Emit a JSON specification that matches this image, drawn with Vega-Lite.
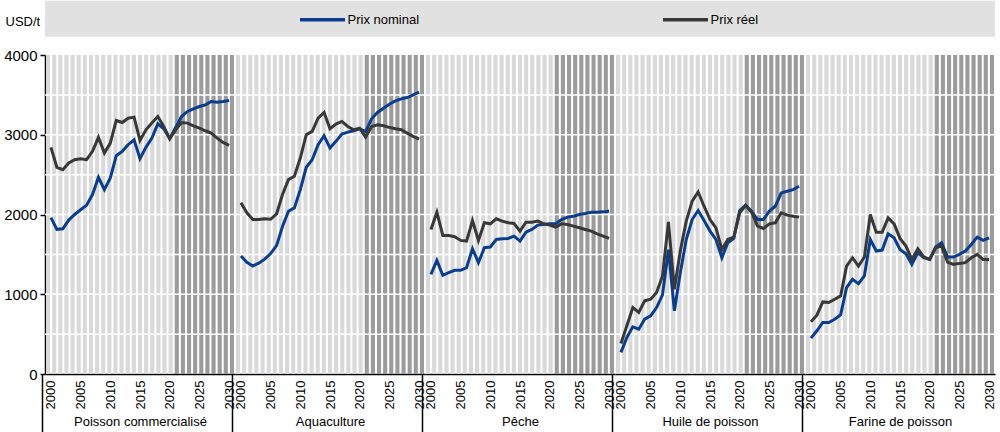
{
"$schema": "https://vega.github.io/schema/vega-lite/v6.json",
"padding": {"left": 3, "top": 0, "right": 0, "bottom": 0},
"background": "white",
"bounds": "flush",
"spacing": 0,
"datasets": {
"prix": [
{"p":"Poisson commercialisé","yr":2000,"n":1960,"r":2842},{"p":"Poisson commercialisé","yr":2001,"n":1814,"r":2592},{"p":"Poisson commercialisé","yr":2002,"n":1820,"r":2562},{"p":"Poisson commercialisé","yr":2003,"n":1930,"r":2646},{"p":"Poisson commercialisé","yr":2004,"n":2000,"r":2687},{"p":"Poisson commercialisé","yr":2005,"n":2060,"r":2700},{"p":"Poisson commercialisé","yr":2006,"n":2115,"r":2687},{"p":"Poisson commercialisé","yr":2007,"n":2250,"r":2792},{"p":"Poisson commercialisé","yr":2008,"n":2467,"r":2967},{"p":"Poisson commercialisé","yr":2009,"n":2312,"r":2771},{"p":"Poisson commercialisé","yr":2010,"n":2458,"r":2896},{"p":"Poisson commercialisé","yr":2011,"n":2737,"r":3179},{"p":"Poisson commercialisé","yr":2012,"n":2792,"r":3154},{"p":"Poisson commercialisé","yr":2013,"n":2875,"r":3208},{"p":"Poisson commercialisé","yr":2014,"n":2937,"r":3221},{"p":"Poisson commercialisé","yr":2015,"n":2700,"r":2929},{"p":"Poisson commercialisé","yr":2016,"n":2842,"r":3062},{"p":"Poisson commercialisé","yr":2017,"n":2958,"r":3146},{"p":"Poisson commercialisé","yr":2018,"n":3137,"r":3229},{"p":"Poisson commercialisé","yr":2019,"n":3075,"r":3104},{"p":"Poisson commercialisé","yr":2020,"n":2950,"r":2950},{"p":"Poisson commercialisé","yr":2021,"n":3092,"r":3062},{"p":"Poisson commercialisé","yr":2022,"n":3229,"r":3154},{"p":"Poisson commercialisé","yr":2023,"n":3292,"r":3146},{"p":"Poisson commercialisé","yr":2024,"n":3325,"r":3112},{"p":"Poisson commercialisé","yr":2025,"n":3354,"r":3083},{"p":"Poisson commercialisé","yr":2026,"n":3375,"r":3050},{"p":"Poisson commercialisé","yr":2027,"n":3417,"r":3021},{"p":"Poisson commercialisé","yr":2028,"n":3408,"r":2958},{"p":"Poisson commercialisé","yr":2029,"n":3417,"r":2904},{"p":"Poisson commercialisé","yr":2030,"n":3429,"r":2867},
{"p":"Aquaculture","yr":2000,"n":1480,"r":2146},{"p":"Aquaculture","yr":2001,"n":1400,"r":2021},{"p":"Aquaculture","yr":2002,"n":1355,"r":1937},{"p":"Aquaculture","yr":2003,"n":1390,"r":1937},{"p":"Aquaculture","yr":2004,"n":1440,"r":1946},{"p":"Aquaculture","yr":2005,"n":1510,"r":1940},{"p":"Aquaculture","yr":2006,"n":1610,"r":2008},{"p":"Aquaculture","yr":2007,"n":1850,"r":2250},{"p":"Aquaculture","yr":2008,"n":2040,"r":2437},{"p":"Aquaculture","yr":2009,"n":2083,"r":2479},{"p":"Aquaculture","yr":2010,"n":2312,"r":2708},{"p":"Aquaculture","yr":2011,"n":2592,"r":3000},{"p":"Aquaculture","yr":2012,"n":2687,"r":3042},{"p":"Aquaculture","yr":2013,"n":2875,"r":3208},{"p":"Aquaculture","yr":2014,"n":2987,"r":3279},{"p":"Aquaculture","yr":2015,"n":2833,"r":3075},{"p":"Aquaculture","yr":2016,"n":2917,"r":3133},{"p":"Aquaculture","yr":2017,"n":3008,"r":3167},{"p":"Aquaculture","yr":2018,"n":3033,"r":3104},{"p":"Aquaculture","yr":2019,"n":3050,"r":3062},{"p":"Aquaculture","yr":2020,"n":3075,"r":3083},{"p":"Aquaculture","yr":2021,"n":3040,"r":2971},{"p":"Aquaculture","yr":2022,"n":3200,"r":3104},{"p":"Aquaculture","yr":2023,"n":3279,"r":3125},{"p":"Aquaculture","yr":2024,"n":3333,"r":3112},{"p":"Aquaculture","yr":2025,"n":3383,"r":3092},{"p":"Aquaculture","yr":2026,"n":3425,"r":3075},{"p":"Aquaculture","yr":2027,"n":3450,"r":3062},{"p":"Aquaculture","yr":2028,"n":3467,"r":3021},{"p":"Aquaculture","yr":2029,"n":3500,"r":2979},{"p":"Aquaculture","yr":2030,"n":3533,"r":2946},
{"p":"Pêche","yr":2000,"n":1250,"r":1812},{"p":"Pêche","yr":2001,"n":1425,"r":2029},{"p":"Pêche","yr":2002,"n":1237,"r":1737},{"p":"Pêche","yr":2003,"n":1271,"r":1737},{"p":"Pêche","yr":2004,"n":1300,"r":1721},{"p":"Pêche","yr":2005,"n":1300,"r":1675},{"p":"Pêche","yr":2006,"n":1333,"r":1667},{"p":"Pêche","yr":2007,"n":1571,"r":1925},{"p":"Pêche","yr":2008,"n":1396,"r":1675},{"p":"Pêche","yr":2009,"n":1583,"r":1896},{"p":"Pêche","yr":2010,"n":1592,"r":1883},{"p":"Pêche","yr":2011,"n":1687,"r":1946},{"p":"Pêche","yr":2012,"n":1696,"r":1917},{"p":"Pêche","yr":2013,"n":1700,"r":1896},{"p":"Pêche","yr":2014,"n":1729,"r":1887},{"p":"Pêche","yr":2015,"n":1667,"r":1792},{"p":"Pêche","yr":2016,"n":1779,"r":1904},{"p":"Pêche","yr":2017,"n":1812,"r":1904},{"p":"Pêche","yr":2018,"n":1867,"r":1917},{"p":"Pêche","yr":2019,"n":1875,"r":1883},{"p":"Pêche","yr":2020,"n":1883,"r":1867},{"p":"Pêche","yr":2021,"n":1883,"r":1842},{"p":"Pêche","yr":2022,"n":1937,"r":1883},{"p":"Pêche","yr":2023,"n":1967,"r":1875},{"p":"Pêche","yr":2024,"n":1979,"r":1854},{"p":"Pêche","yr":2025,"n":2000,"r":1833},{"p":"Pêche","yr":2026,"n":2012,"r":1812},{"p":"Pêche","yr":2027,"n":2029,"r":1792},{"p":"Pêche","yr":2028,"n":2029,"r":1758},{"p":"Pêche","yr":2029,"n":2033,"r":1729},{"p":"Pêche","yr":2030,"n":2042,"r":1700},
{"p":"Huile de poisson","yr":2000,"n":271,"r":383},{"p":"Huile de poisson","yr":2001,"n":458,"r":604},{"p":"Huile de poisson","yr":2002,"n":592,"r":833},{"p":"Huile de poisson","yr":2003,"n":562,"r":771},{"p":"Huile de poisson","yr":2004,"n":687,"r":917},{"p":"Huile de poisson","yr":2005,"n":729,"r":937},{"p":"Huile de poisson","yr":2006,"n":833,"r":1021},{"p":"Huile de poisson","yr":2007,"n":992,"r":1229},{"p":"Huile de poisson","yr":2008,"n":1560,"r":1908},{"p":"Huile de poisson","yr":2009,"n":792,"r":1062},{"p":"Huile de poisson","yr":2010,"n":1271,"r":1542},{"p":"Huile de poisson","yr":2011,"n":1687,"r":1917},{"p":"Huile de poisson","yr":2012,"n":1937,"r":2167},{"p":"Huile de poisson","yr":2013,"n":2050,"r":2283},{"p":"Huile de poisson","yr":2014,"n":1925,"r":2104},{"p":"Huile de poisson","yr":2015,"n":1792,"r":1937},{"p":"Huile de poisson","yr":2016,"n":1687,"r":1833},{"p":"Huile de poisson","yr":2017,"n":1458,"r":1562},{"p":"Huile de poisson","yr":2018,"n":1646,"r":1687},{"p":"Huile de poisson","yr":2019,"n":1700,"r":1717},{"p":"Huile de poisson","yr":2020,"n":2050,"r":2021},{"p":"Huile de poisson","yr":2021,"n":2117,"r":2112},{"p":"Huile de poisson","yr":2022,"n":2042,"r":2029},{"p":"Huile de poisson","yr":2023,"n":1937,"r":1854},{"p":"Huile de poisson","yr":2024,"n":1937,"r":1825},{"p":"Huile de poisson","yr":2025,"n":2042,"r":1883},{"p":"Huile de poisson","yr":2026,"n":2104,"r":1896},{"p":"Huile de poisson","yr":2027,"n":2271,"r":2021},{"p":"Huile de poisson","yr":2028,"n":2292,"r":1992},{"p":"Huile de poisson","yr":2029,"n":2312,"r":1979},{"p":"Huile de poisson","yr":2030,"n":2354,"r":1967},
{"p":"Farine de poisson","yr":2000,"n":450,"r":654},{"p":"Farine de poisson","yr":2001,"n":542,"r":737},{"p":"Farine de poisson","yr":2002,"n":646,"r":904},{"p":"Farine de poisson","yr":2003,"n":646,"r":896},{"p":"Farine de poisson","yr":2004,"n":687,"r":937},{"p":"Farine de poisson","yr":2005,"n":742,"r":979},{"p":"Farine de poisson","yr":2006,"n":1083,"r":1354},{"p":"Farine de poisson","yr":2007,"n":1187,"r":1458},{"p":"Farine de poisson","yr":2008,"n":1133,"r":1354},{"p":"Farine de poisson","yr":2009,"n":1229,"r":1467},{"p":"Farine de poisson","yr":2010,"n":1687,"r":2000},{"p":"Farine de poisson","yr":2011,"n":1542,"r":1779},{"p":"Farine de poisson","yr":2012,"n":1554,"r":1779},{"p":"Farine de poisson","yr":2013,"n":1758,"r":1958},{"p":"Farine de poisson","yr":2014,"n":1708,"r":1883},{"p":"Farine de poisson","yr":2015,"n":1562,"r":1700},{"p":"Farine de poisson","yr":2016,"n":1508,"r":1604},{"p":"Farine de poisson","yr":2017,"n":1375,"r":1437},{"p":"Farine de poisson","yr":2018,"n":1521,"r":1571},{"p":"Farine de poisson","yr":2019,"n":1458,"r":1467},{"p":"Farine de poisson","yr":2020,"n":1437,"r":1437},{"p":"Farine de poisson","yr":2021,"n":1592,"r":1583},{"p":"Farine de poisson","yr":2022,"n":1646,"r":1604},{"p":"Farine de poisson","yr":2023,"n":1467,"r":1404},{"p":"Farine de poisson","yr":2024,"n":1467,"r":1375},{"p":"Farine de poisson","yr":2025,"n":1500,"r":1387},{"p":"Farine de poisson","yr":2026,"n":1542,"r":1396},{"p":"Farine de poisson","yr":2027,"n":1625,"r":1458},{"p":"Farine de poisson","yr":2028,"n":1717,"r":1500},{"p":"Farine de poisson","yr":2029,"n":1675,"r":1437},{"p":"Farine de poisson","yr":2030,"n":1708,"r":1437}
]
},
"data": {"name": "prix"},
"resolve": {"scale": {"color": "shared"}, "legend": {"color": "shared"}},
"hconcat": [
{
 "width": 190, "height": 319,
 "transform": [{"filter": {"field": "p", "equal": "Poisson commercialisé"}}],
 "resolve": {"scale": {"x": "independent"}},
 "layer": [
  {"transform": [{"aggregate": [{"op": "count", "as": "c"}]}], "mark": {"type": "rect", "color": "#e1e1e1"},
   "encoding": {"x": {"value": 0}, "x2": {"value": "width"}, "y": {"datum": 4680}, "y2": {"datum": 4230}}},
  {"mark": {"type": "bar"},
   "encoding": {"x": {"field": "yr", "type": "ordinal", "scale": {"type": "band", "paddingInner": 0.33, "paddingOuter": 0.165}, "axis": null},
                "y": {"datum": 4000},
                "color": {"condition": {"test": "datum.yr > 2020", "value": "#9b9b9b"}, "value": "#d9d9d9"}}},
  {"transform": [{"aggregate": [{"op": "count", "as": "c"}]}],
   "layer": [
    {"mark": {"type": "rule", "color": "white", "strokeWidth": 1.5}, "encoding": {"y": {"datum": 500}}},
    {"mark": {"type": "rule", "color": "white", "strokeWidth": 1.5}, "encoding": {"y": {"datum": 1000}}},
    {"mark": {"type": "rule", "color": "white", "strokeWidth": 1.5}, "encoding": {"y": {"datum": 1500}}},
    {"mark": {"type": "rule", "color": "white", "strokeWidth": 1.5}, "encoding": {"y": {"datum": 2000}}},
    {"mark": {"type": "rule", "color": "white", "strokeWidth": 1.5}, "encoding": {"y": {"datum": 2500}}},
    {"mark": {"type": "rule", "color": "white", "strokeWidth": 1.5}, "encoding": {"y": {"datum": 3000}}},
    {"mark": {"type": "rule", "color": "white", "strokeWidth": 1.5}, "encoding": {"y": {"datum": 3500}}}
   ]},
  {"transform": [{"fold": ["n", "r"], "as": ["s", "v"]}],
   "mark": {"type": "line", "strokeWidth": 3},
   "encoding": {
    "x": {"field": "yr", "type": "ordinal", "scale": {"type": "point", "padding": 1.474},
          "axis": {"values": [2000, 2005, 2010, 2015, 2020, 2025, 2030], "title": "Poisson commercialisé", "orient": "bottom",
                   "titleFontSize": 13, "titleFontWeight": "normal", "titleFont": "Liberation Sans", "titleColor": "black", "titleY": 47, "titleBaseline": "middle",
                   "labelAngle": -90, "labelAlign": "right", "labelBaseline": "middle",
                   "labelFontSize": 13, "labelFont": "Liberation Sans", "labelColor": "black",
                   "labelPadding": -53, "labelOffset": 8.5, "tickOffset": -8.5,
                   "domainColor": "black", "domainWidth": 1.5, "grid": false, "tickSize": 59, "tickWidth": 1.5,
                   "tickColor": {"condition": {"test": "datum.value == 2000", "value": "black"}, "value": "transparent"}}},
    "y": {"field": "v", "type": "quantitative", "scale": {"domain": [0, 4000], "nice": false},
          "axis": {"values": [0, 500, 1000, 1500, 2000, 2500, 3000, 3500, 4000], "format": "d",
                   "title": "USD/t", "titleAngle": 0, "titleAlign": "left", "titleBaseline": "middle",
                   "titleX": -40, "titleY": -34, "titleFontSize": 13, "titleFontWeight": "normal",
                   "titleFont": "Liberation Sans", "titleColor": "black",
                   "labelFontSize": 15, "labelFont": "Liberation Sans", "labelColor": "black", "labelPadding": 3,
                   "tickColor": "black", "tickSize": 5, "tickWidth": 1.5,
                   "domainColor": "black", "domainWidth": 1.5, "grid": false}},
    "color": {"field": "s", "type": "nominal",
              "scale": {"domain": ["n", "r"], "range": ["#0a3d8f", "#383838"]},
              "legend": {"orient": "none", "legendX": 268, "legendY": -45, "direction": "horizontal",
                         "title": null, "symbolType": "M-3,0H3", "symbolSize": 225, "symbolStrokeWidth": 3.5,
                         "labelFontSize": 13, "labelFont": "Liberation Sans", "labelColor": "black",
                         "labelOffset": 15.5, "columnPadding": 236,
                         "labelExpr": "datum.label == 'n' ? 'Prix nominal' : 'Prix réel'"}}
   }}
 ]
},
{
 "width": 190, "height": 319,
 "transform": [{"filter": {"field": "p", "equal": "Aquaculture"}}],
 "resolve": {"scale": {"x": "independent"}},
 "layer": [
  {"transform": [{"aggregate": [{"op": "count", "as": "c"}]}], "mark": {"type": "rect", "color": "#e1e1e1"},
   "encoding": {"x": {"value": 0}, "x2": {"value": "width"}, "y": {"datum": 4680, "axis": null}, "y2": {"datum": 4230}}},
  {"mark": {"type": "bar"},
   "encoding": {"x": {"field": "yr", "type": "ordinal", "scale": {"type": "band", "paddingInner": 0.33, "paddingOuter": 0.165}, "axis": null},
                "y": {"datum": 4000, "axis": null},
                "color": {"condition": {"test": "datum.yr > 2020", "value": "#9b9b9b"}, "value": "#d9d9d9"}}},
  {"transform": [{"aggregate": [{"op": "count", "as": "c"}]}],
   "layer": [
    {"mark": {"type": "rule", "color": "white", "strokeWidth": 1.5}, "encoding": {"y": {"datum": 500, "axis": null}}},
    {"mark": {"type": "rule", "color": "white", "strokeWidth": 1.5}, "encoding": {"y": {"datum": 1000, "axis": null}}},
    {"mark": {"type": "rule", "color": "white", "strokeWidth": 1.5}, "encoding": {"y": {"datum": 1500, "axis": null}}},
    {"mark": {"type": "rule", "color": "white", "strokeWidth": 1.5}, "encoding": {"y": {"datum": 2000, "axis": null}}},
    {"mark": {"type": "rule", "color": "white", "strokeWidth": 1.5}, "encoding": {"y": {"datum": 2500, "axis": null}}},
    {"mark": {"type": "rule", "color": "white", "strokeWidth": 1.5}, "encoding": {"y": {"datum": 3000, "axis": null}}},
    {"mark": {"type": "rule", "color": "white", "strokeWidth": 1.5}, "encoding": {"y": {"datum": 3500, "axis": null}}}
   ]},
  {"transform": [{"fold": ["n", "r"], "as": ["s", "v"]}],
   "mark": {"type": "line", "strokeWidth": 3},
   "encoding": {
    "x": {"field": "yr", "type": "ordinal", "scale": {"type": "point", "padding": 1.474},
          "axis": {"values": [2000, 2005, 2010, 2015, 2020, 2025, 2030], "title": "Aquaculture", "orient": "bottom",
                   "titleFontSize": 13, "titleFontWeight": "normal", "titleFont": "Liberation Sans", "titleColor": "black", "titleY": 47, "titleBaseline": "middle",
                   "labelAngle": -90, "labelAlign": "right", "labelBaseline": "middle",
                   "labelFontSize": 13, "labelFont": "Liberation Sans", "labelColor": "black",
                   "labelPadding": -53, "labelOffset": 8.5, "tickOffset": -8.5,
                   "domainColor": "black", "domainWidth": 1.5, "grid": false, "tickSize": 59, "tickWidth": 1.5,
                   "tickColor": {"condition": {"test": "datum.value == 2000", "value": "black"}, "value": "transparent"}}},
    "y": {"field": "v", "type": "quantitative", "scale": {"domain": [0, 4000], "nice": false}, "axis": null},
    "color": {"field": "s", "type": "nominal"}
   }}
 ]
},
{
 "width": 190, "height": 319,
 "transform": [{"filter": {"field": "p", "equal": "Pêche"}}],
 "resolve": {"scale": {"x": "independent"}},
 "layer": [
  {"transform": [{"aggregate": [{"op": "count", "as": "c"}]}], "mark": {"type": "rect", "color": "#e1e1e1"},
   "encoding": {"x": {"value": 0}, "x2": {"value": "width"}, "y": {"datum": 4680, "axis": null}, "y2": {"datum": 4230}}},
  {"mark": {"type": "bar"},
   "encoding": {"x": {"field": "yr", "type": "ordinal", "scale": {"type": "band", "paddingInner": 0.33, "paddingOuter": 0.165}, "axis": null},
                "y": {"datum": 4000, "axis": null},
                "color": {"condition": {"test": "datum.yr > 2020", "value": "#9b9b9b"}, "value": "#d9d9d9"}}},
  {"transform": [{"aggregate": [{"op": "count", "as": "c"}]}],
   "layer": [
    {"mark": {"type": "rule", "color": "white", "strokeWidth": 1.5}, "encoding": {"y": {"datum": 500, "axis": null}}},
    {"mark": {"type": "rule", "color": "white", "strokeWidth": 1.5}, "encoding": {"y": {"datum": 1000, "axis": null}}},
    {"mark": {"type": "rule", "color": "white", "strokeWidth": 1.5}, "encoding": {"y": {"datum": 1500, "axis": null}}},
    {"mark": {"type": "rule", "color": "white", "strokeWidth": 1.5}, "encoding": {"y": {"datum": 2000, "axis": null}}},
    {"mark": {"type": "rule", "color": "white", "strokeWidth": 1.5}, "encoding": {"y": {"datum": 2500, "axis": null}}},
    {"mark": {"type": "rule", "color": "white", "strokeWidth": 1.5}, "encoding": {"y": {"datum": 3000, "axis": null}}},
    {"mark": {"type": "rule", "color": "white", "strokeWidth": 1.5}, "encoding": {"y": {"datum": 3500, "axis": null}}}
   ]},
  {"transform": [{"fold": ["n", "r"], "as": ["s", "v"]}],
   "mark": {"type": "line", "strokeWidth": 3},
   "encoding": {
    "x": {"field": "yr", "type": "ordinal", "scale": {"type": "point", "padding": 1.474},
          "axis": {"values": [2000, 2005, 2010, 2015, 2020, 2025, 2030], "title": "Pêche", "orient": "bottom",
                   "titleFontSize": 13, "titleFontWeight": "normal", "titleFont": "Liberation Sans", "titleColor": "black", "titleY": 47, "titleBaseline": "middle",
                   "labelAngle": -90, "labelAlign": "right", "labelBaseline": "middle",
                   "labelFontSize": 13, "labelFont": "Liberation Sans", "labelColor": "black",
                   "labelPadding": -53, "labelOffset": 8.5, "tickOffset": -8.5,
                   "domainColor": "black", "domainWidth": 1.5, "grid": false, "tickSize": 59, "tickWidth": 1.5,
                   "tickColor": {"condition": {"test": "datum.value == 2000", "value": "black"}, "value": "transparent"}}},
    "y": {"field": "v", "type": "quantitative", "scale": {"domain": [0, 4000], "nice": false}, "axis": null},
    "color": {"field": "s", "type": "nominal"}
   }}
 ]
},
{
 "width": 190, "height": 319,
 "transform": [{"filter": {"field": "p", "equal": "Huile de poisson"}}],
 "resolve": {"scale": {"x": "independent"}},
 "layer": [
  {"transform": [{"aggregate": [{"op": "count", "as": "c"}]}], "mark": {"type": "rect", "color": "#e1e1e1"},
   "encoding": {"x": {"value": 0}, "x2": {"value": "width"}, "y": {"datum": 4680, "axis": null}, "y2": {"datum": 4230}}},
  {"mark": {"type": "bar"},
   "encoding": {"x": {"field": "yr", "type": "ordinal", "scale": {"type": "band", "paddingInner": 0.33, "paddingOuter": 0.165}, "axis": null},
                "y": {"datum": 4000, "axis": null},
                "color": {"condition": {"test": "datum.yr > 2020", "value": "#9b9b9b"}, "value": "#d9d9d9"}}},
  {"transform": [{"aggregate": [{"op": "count", "as": "c"}]}],
   "layer": [
    {"mark": {"type": "rule", "color": "white", "strokeWidth": 1.5}, "encoding": {"y": {"datum": 500, "axis": null}}},
    {"mark": {"type": "rule", "color": "white", "strokeWidth": 1.5}, "encoding": {"y": {"datum": 1000, "axis": null}}},
    {"mark": {"type": "rule", "color": "white", "strokeWidth": 1.5}, "encoding": {"y": {"datum": 1500, "axis": null}}},
    {"mark": {"type": "rule", "color": "white", "strokeWidth": 1.5}, "encoding": {"y": {"datum": 2000, "axis": null}}},
    {"mark": {"type": "rule", "color": "white", "strokeWidth": 1.5}, "encoding": {"y": {"datum": 2500, "axis": null}}},
    {"mark": {"type": "rule", "color": "white", "strokeWidth": 1.5}, "encoding": {"y": {"datum": 3000, "axis": null}}},
    {"mark": {"type": "rule", "color": "white", "strokeWidth": 1.5}, "encoding": {"y": {"datum": 3500, "axis": null}}}
   ]},
  {"transform": [{"fold": ["n", "r"], "as": ["s", "v"]}],
   "mark": {"type": "line", "strokeWidth": 3},
   "encoding": {
    "x": {"field": "yr", "type": "ordinal", "scale": {"type": "point", "padding": 1.474},
          "axis": {"values": [2000, 2005, 2010, 2015, 2020, 2025, 2030], "title": "Huile de poisson", "orient": "bottom",
                   "titleFontSize": 13, "titleFontWeight": "normal", "titleFont": "Liberation Sans", "titleColor": "black", "titleY": 47, "titleBaseline": "middle",
                   "labelAngle": -90, "labelAlign": "right", "labelBaseline": "middle",
                   "labelFontSize": 13, "labelFont": "Liberation Sans", "labelColor": "black",
                   "labelPadding": -53, "labelOffset": 8.5, "tickOffset": -8.5,
                   "domainColor": "black", "domainWidth": 1.5, "grid": false, "tickSize": 59, "tickWidth": 1.5,
                   "tickColor": {"condition": {"test": "datum.value == 2000", "value": "black"}, "value": "transparent"}}},
    "y": {"field": "v", "type": "quantitative", "scale": {"domain": [0, 4000], "nice": false}, "axis": null},
    "color": {"field": "s", "type": "nominal"}
   }}
 ]
},
{
 "width": 190, "height": 319,
 "transform": [{"filter": {"field": "p", "equal": "Farine de poisson"}}],
 "resolve": {"scale": {"x": "independent"}},
 "layer": [
  {"transform": [{"aggregate": [{"op": "count", "as": "c"}]}], "mark": {"type": "rect", "color": "#e1e1e1"},
   "encoding": {"x": {"value": 0}, "x2": {"value": "width"}, "y": {"datum": 4680, "axis": null}, "y2": {"datum": 4230}}},
  {"mark": {"type": "bar"},
   "encoding": {"x": {"field": "yr", "type": "ordinal", "scale": {"type": "band", "paddingInner": 0.33, "paddingOuter": 0.165}, "axis": null},
                "y": {"datum": 4000, "axis": null},
                "color": {"condition": {"test": "datum.yr > 2020", "value": "#9b9b9b"}, "value": "#d9d9d9"}}},
  {"transform": [{"aggregate": [{"op": "count", "as": "c"}]}],
   "layer": [
    {"mark": {"type": "rule", "color": "white", "strokeWidth": 1.5}, "encoding": {"y": {"datum": 500, "axis": null}}},
    {"mark": {"type": "rule", "color": "white", "strokeWidth": 1.5}, "encoding": {"y": {"datum": 1000, "axis": null}}},
    {"mark": {"type": "rule", "color": "white", "strokeWidth": 1.5}, "encoding": {"y": {"datum": 1500, "axis": null}}},
    {"mark": {"type": "rule", "color": "white", "strokeWidth": 1.5}, "encoding": {"y": {"datum": 2000, "axis": null}}},
    {"mark": {"type": "rule", "color": "white", "strokeWidth": 1.5}, "encoding": {"y": {"datum": 2500, "axis": null}}},
    {"mark": {"type": "rule", "color": "white", "strokeWidth": 1.5}, "encoding": {"y": {"datum": 3000, "axis": null}}},
    {"mark": {"type": "rule", "color": "white", "strokeWidth": 1.5}, "encoding": {"y": {"datum": 3500, "axis": null}}}
   ]},
  {"transform": [{"fold": ["n", "r"], "as": ["s", "v"]}],
   "mark": {"type": "line", "strokeWidth": 3},
   "encoding": {
    "x": {"field": "yr", "type": "ordinal", "scale": {"type": "point", "padding": 1.474},
          "axis": {"values": [2000, 2005, 2010, 2015, 2020, 2025, 2030], "title": "Farine de poisson", "orient": "bottom",
                   "titleFontSize": 13, "titleFontWeight": "normal", "titleFont": "Liberation Sans", "titleColor": "black", "titleY": 47, "titleBaseline": "middle",
                   "labelAngle": -90, "labelAlign": "right", "labelBaseline": "middle",
                   "labelFontSize": 13, "labelFont": "Liberation Sans", "labelColor": "black",
                   "labelPadding": -53, "labelOffset": 8.5, "tickOffset": -8.5,
                   "domainColor": "black", "domainWidth": 1.5, "grid": false, "tickSize": 59, "tickWidth": 1.5,
                   "tickColor": {"condition": {"test": "datum.value == 2000", "value": "black"}, "value": "transparent"}}},
    "y": {"field": "v", "type": "quantitative", "scale": {"domain": [0, 4000], "nice": false}, "axis": null},
    "color": {"field": "s", "type": "nominal"}
   }}
 ]
}
],
"config": {"view": {"stroke": null}, "font": "Liberation Sans"}
}
